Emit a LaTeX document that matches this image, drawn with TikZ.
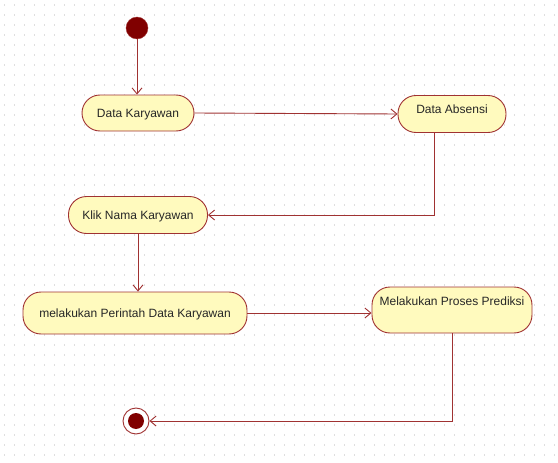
\documentclass[tikz,border=0pt]{standalone}
\usepackage{fontspec}
\setmainfont{Liberation Sans}
\usepackage{xcolor}
\usepackage{tikz}
\usetikzlibrary{arrows.meta,calc}
\definecolor{umlred}{RGB}{160,50,50}
\definecolor{umlfill}{RGB}{255,250,190}
\definecolor{startred}{RGB}{128,0,0}
\definecolor{griddot}{RGB}{222,222,222}

\tikzset{
  activity/.style={draw=umlred, fill=umlfill, line width=0.9pt, rounded corners=18pt,
    font=\fontsize{12}{14}\selectfont, text=black!85, inner ysep=0pt, text height=9pt, text depth=0pt},
  flow/.style={draw=umlred, line width=0.9pt, -{Straight Barb[length=6pt,width=10pt]}}
}

\begin{document}
\begin{tikzpicture}[x=1pt,y=-1pt]
\useasboundingbox (0,0) rectangle (558,463);
% dotted background
\foreach \row in {5,15,...,455} {
  \draw[griddot, line width=1.2pt, dash pattern=on 1.2pt off 8.8pt] (4,\row) -- (556,\row);
}

% start and end
\node[circle, fill=startred, draw=umlred, minimum size=22pt, inner sep=0pt] (start) at (137,28) {};
\node[circle, draw=umlred, fill=white, line width=0.9pt, minimum size=26pt, inner sep=0pt] (end) at (136,421) {};
\node[circle, fill=startred, minimum size=16pt, inner sep=0pt] (endDot) at (end) {};

% activities
\node[activity, minimum width=112pt, minimum height=36pt] (dataKaryawan) at (138,113) {Data Karyawan};
\node[activity, minimum width=108pt, minimum height=37pt, text depth=11pt] (dataAbsensi) at (452,114) {Data Absensi};
\node[activity, minimum width=139pt, minimum height=37pt] (klikNama) at (138,215) {Klik Nama Karyawan};
\node[activity, minimum width=224pt, minimum height=42pt] (perintah) at (135,313) {melakukan Perintah Data Karyawan};
\node[activity, minimum width=160pt, minimum height=46pt, text depth=18pt] (prediksi) at (452,310) {Melakukan Proses Prediksi};

% flows
\draw[flow] (start) -- (start |- dataKaryawan.north);
\draw[flow] (dataKaryawan.east) -- (dataAbsensi.west);
\draw[flow] ($(dataAbsensi.south)+(-18,0)$) |- (klikNama.east);
\draw[flow] (klikNama) -- (klikNama |- perintah.north);
\draw[flow] (perintah.east) -- (perintah.east -| prediksi.west);
\draw[flow] (prediksi.south) |- (end.east);
\end{tikzpicture}
\end{document}
